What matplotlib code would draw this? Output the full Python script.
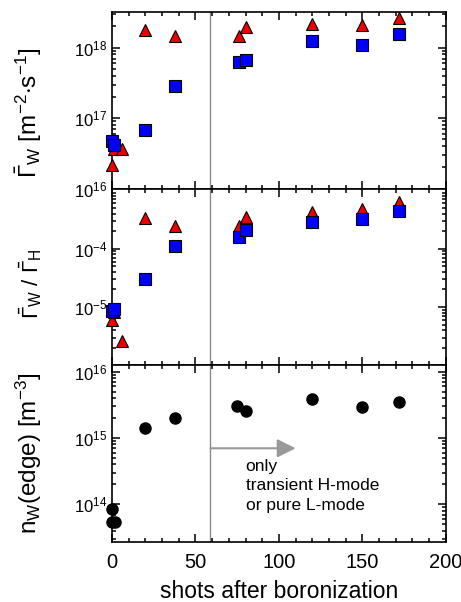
import matplotlib
matplotlib.use("Agg")
import matplotlib.pyplot as plt
from matplotlib.ticker import LogLocator, LogFormatterSciNotation, MultipleLocator, NullFormatter

plt.rcParams["font.family"] = ["Liberation Sans", "DejaVu Sans"]
plt.rcParams["mathtext.fontset"] = "custom"
plt.rcParams["mathtext.rm"] = "Liberation Sans"
plt.rcParams["mathtext.it"] = "Liberation Sans:italic"
plt.rcParams["mathtext.bf"] = "Liberation Sans:bold"

# W flux (top panel)
flux_tri_x = [0, 1, 6, 20, 38, 76, 80, 120, 150, 172]
flux_tri_y = [2.2e16, 3.6e16, 3.6e16, 1.8e18, 1.45e18, 1.44e18, 1.95e18, 2.2e18, 2.1e18, 2.6e18]
flux_sq_x = [0, 1, 20, 38, 76, 80, 120, 150, 172]
flux_sq_y = [4.8e16, 4.2e16, 6.9e16, 2.9e17, 6.3e17, 6.7e17, 1.25e18, 1.09e18, 1.58e18]

# W / H flux ratio (middle panel)
ratio_tri_x = [0, 1, 6, 20, 38, 76, 80, 120, 150, 172]
ratio_tri_y = [5.9e-6, 8.1e-6, 2.6e-6, 3.3e-4, 2.45e-4, 2.45e-4, 3.5e-4, 4.3e-4, 4.75e-4, 6.3e-4]
ratio_sq_x = [0, 1, 20, 38, 76, 80, 120, 150, 172]
ratio_sq_y = [8.5e-6, 9.3e-6, 2.97e-5, 1.12e-4, 1.58e-4, 2.1e-4, 2.9e-4, 3.2e-4, 4.5e-4]

# W edge density (bottom panel)
dens_x = [0, 0, 2, 20, 38, 75, 80, 120, 150, 172]
dens_y = [8.5e13, 5.5e13, 5.5e13, 1.4e15, 2.0e15, 3.0e15, 2.6e15, 3.9e15, 2.9e15, 3.5e15]

boronization_limit = 59

fig, axes = plt.subplots(3, 1, figsize=(4.61, 6.02), dpi=100, sharex=True)
fig.subplots_adjust(left=0.243, right=0.967, top=0.980, bottom=0.0997, hspace=0)
ax1, ax2, ax3 = axes

tri = dict(ls="none", marker="^", ms=8.5, mfc="#ee0000", mec="black", mew=0.8, clip_on=False, zorder=3)
sq = dict(ls="none", marker="s", ms=8.5, mfc="#0000ff", mec="black", mew=0.8, clip_on=False, zorder=4)
ax1.plot(flux_tri_x, flux_tri_y, **tri)
ax1.plot(flux_sq_x, flux_sq_y, **sq)
ax2.plot(ratio_tri_x, ratio_tri_y, **tri)
ax2.plot(ratio_sq_x, ratio_sq_y, **sq)
ax3.plot(dens_x, dens_y, "o", ms=8, mfc="black", mec="black", clip_on=False, zorder=3)

ax1.set_ylim(1e16, 3.2e18)
ax2.set_ylim(1e-6, 1.07e-3)
ax3.set_ylim(2.7e13, 1.25e16)

for ax in axes:
    ax.set_yscale("log")
    ax.yaxis.set_major_formatter(LogFormatterSciNotation())
    ax.yaxis.set_minor_locator(LogLocator(base=10, subs=range(2, 10), numticks=20))
    ax.yaxis.set_minor_formatter(NullFormatter())
    ax.set_xlim(0, 200)
    ax.xaxis.set_major_locator(MultipleLocator(50))
    ax.xaxis.set_minor_locator(MultipleLocator(10))
    ax.tick_params(which="both", direction="in", top=True, right=True, width=1.1)
    ax.tick_params(which="major", length=6, labelsize=12)
    ax.tick_params(which="minor", length=3)
    for s in ax.spines.values():
        s.set_linewidth(1.2)
    ax.axvline(boronization_limit, color="#8c8c8c", lw=1, zorder=1)

ax1.set_yticks([1e16, 1e17, 1e18])
ax2.set_yticks([1e-5, 1e-4])
ax3.set_yticks([1e14, 1e15, 1e16])

ax3.tick_params(axis="x", which="major", labelsize=14.5, pad=8)

ax1.set_ylabel(r"$\bar{\Gamma}_{\rm W}$ [m$^{-2}$$\cdot$s$^{-1}$]", fontsize=17.5)
ax2.set_ylabel(r"$\bar{\Gamma}_{\rm W}$ / $\bar{\Gamma}_{\rm H}$", fontsize=16)
ax3.set_ylabel(r"n$_{\rm W}$(edge) [m$^{-3}$]", fontsize=17.5)
ax1.yaxis.set_label_coords(-0.205, 0.43)
ax2.yaxis.set_label_coords(-0.205, 0.465)
ax3.yaxis.set_label_coords(-0.205, 0.5)
ax3.set_xlabel("shots after boronization", fontsize=16.5, labelpad=6)

ax3.annotate("", xy=(110, 7e14), xytext=(boronization_limit, 7e14),
             arrowprops=dict(arrowstyle="-|>", color="#999999", lw=1.5, mutation_scale=28,
                             shrinkA=0, shrinkB=0))
ax3.text(80, 4.9e14, "only\ntransient H-mode\nor pure L-mode", fontsize=12.5,
         va="top", ha="left", linespacing=1.4)

fig.savefig("out.png", dpi=100)
